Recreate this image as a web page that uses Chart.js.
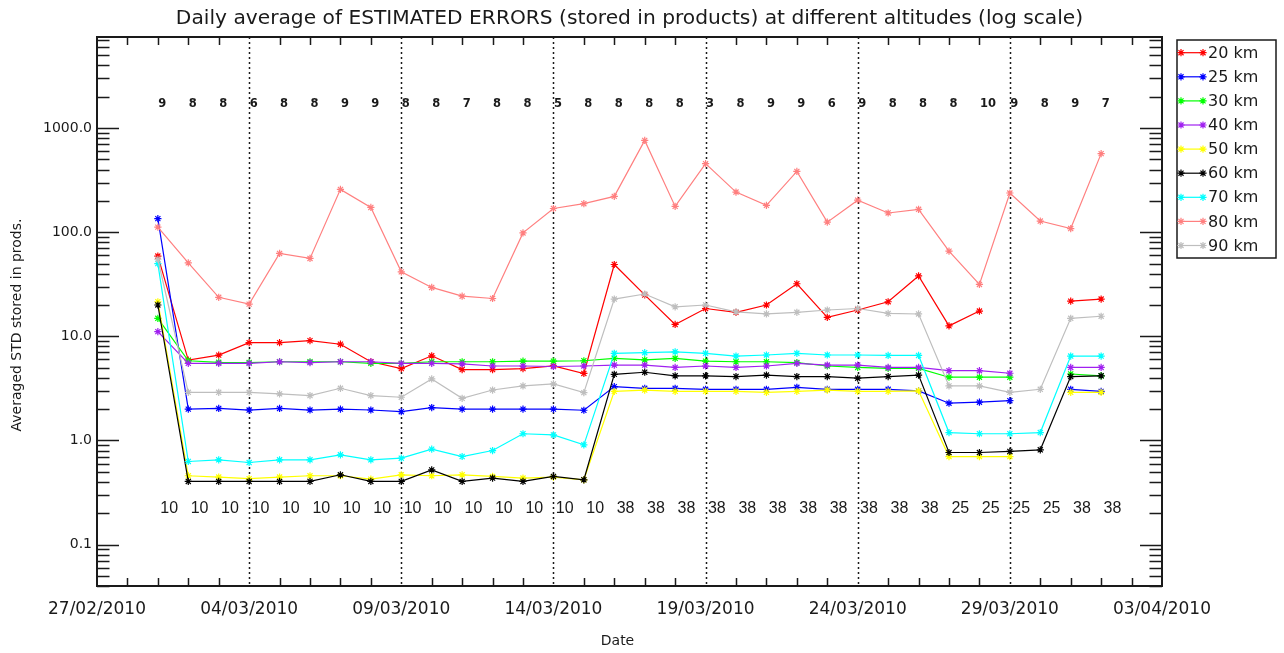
<!DOCTYPE html>
<html>
<head>
<meta charset="utf-8">
<script src="https://cdn.jsdelivr.net/npm/chart.js@4.4.0/dist/chart.umd.min.js"></script>
<style>
  html, body { margin: 0; padding: 0; background: #ffffff; }
  canvas { display: block; }
</style>
</head>
<body>
<canvas id="chart" width="1284" height="653"></canvas>
<script>
// Days with data (dd/mm/yyyy)
const dates = [
  '01/03/2010','02/03/2010','03/03/2010','04/03/2010','05/03/2010','06/03/2010','07/03/2010','08/03/2010',
  '09/03/2010','10/03/2010','11/03/2010','12/03/2010','13/03/2010','14/03/2010','15/03/2010','16/03/2010',
  '17/03/2010','18/03/2010','19/03/2010','20/03/2010','21/03/2010','22/03/2010','23/03/2010','24/03/2010',
  '25/03/2010','26/03/2010','27/03/2010','28/03/2010','29/03/2010','30/03/2010','31/03/2010','01/04/2010'
];

// Daily averaged estimated error per altitude (null = no data that day)
const km20 = [59, 5.9, 6.6, 8.7, 8.7, 9.1, 8.4, 5.7, 4.9, 6.5, 4.8, 4.8, 4.9, 5.2, 4.4, 49,
              25, 13, 18.5, 17, 20, 32, 15.2, 17.9, 21.5, 38, 12.6, 17.5, null, null, 21.8, 22.8];
const km25 = [135, 2.0, 2.03, 1.96, 2.03, 1.96, 2.0, 1.96, 1.89, 2.07, 2.0, 2.0, 2.0, 2.0, 1.95, 3.29,
              3.17, 3.17, 3.1, 3.1, 3.1, 3.24, 3.1, 3.1, 3.1, 2.99, 2.28, 2.33, 2.41, null, 3.1, 2.96];
const km30 = [14.9, 5.83, 5.63, 5.6, 5.7, 5.7, 5.7, 5.5, 5.5, 5.7, 5.7, 5.7, 5.78, 5.78, 5.83, 6.15,
              5.93, 6.15, 5.78, 5.7, 5.7, 5.6, 5.19, 5.03, 4.93, 4.93, 4.05, 4.05, 4.05, null, 4.35, 4.18];
const km40 = [11.1, 5.5, 5.5, 5.5, 5.7, 5.6, 5.7, 5.7, 5.5, 5.5, 5.45, 5.19, 5.19, 5.13, 5.19, 5.3,
              5.3, 5.03, 5.19, 5.03, 5.19, 5.5, 5.3, 5.3, 5.03, 5.03, 4.68, 4.68, 4.42, null, 5.03, 5.03];
const km50 = [21.5, 0.458, 0.445, 0.43, 0.445, 0.458, 0.458, 0.425, 0.468, 0.458, 0.468, 0.451, 0.435, 0.445, 0.419, 2.96,
              3.05, 2.96, 2.96, 2.96, 2.9, 2.96, 3.05, 2.96, 2.96, 3.0, 0.70, 0.70, 0.70, null, 2.9, 2.9];
const km60 = [20.0, 0.404, 0.404, 0.404, 0.404, 0.404, 0.468, 0.404, 0.404, 0.522, 0.404, 0.435, 0.404, 0.451, 0.419, 4.32,
              4.52, 4.18, 4.18, 4.11, 4.25, 4.11, 4.11, 3.96, 4.11, 4.25, 0.766, 0.766, 0.784, 0.813, 4.11, 4.18];
const km70 = [50, 0.628, 0.652, 0.614, 0.652, 0.652, 0.728, 0.652, 0.676, 0.826, 0.701, 0.80, 1.16, 1.13, 0.908, 6.87,
              6.97, 7.1, 6.87, 6.47, 6.62, 6.87, 6.62, 6.62, 6.55, 6.55, 1.19, 1.16, 1.16, 1.19, 6.47, 6.47];
const km80 = [112, 50.8, 23.7, 20.4, 62.5, 56, 258, 173, 41.6, 29.5, 24.3, 23.1, 98.5, 169, 188, 221,
              762, 177, 456, 243, 181, 384, 125, 203, 153, 166, 65.8, 31.5, 238, 128, 108.5, 569];
const km90 = [55, 2.9, 2.9, 2.9, 2.8, 2.7, 3.17, 2.7, 2.6, 3.9, 2.54, 3.05, 3.34, 3.49, 2.88, 22.8,
              25.5, 19.2, 20, 17.2, 16.4, 17, 17.9, 18.5, 16.6, 16.4, 3.34, 3.34, 2.9, 3.1, 14.9, 15.6];

// Per-day counts printed above and below the curves
const countsUpper = [9, 8, 8, 6, 8, 8, 9, 9, 8, 8, 7, 8, 8, 5, 8, 8, 8, 8, 3, 8, 9, 9, 6, 9, 8, 8, 8, 10, 9, 8, 9, 7];
const countsLower = [10, 10, 10, 10, 10, 10, 10, 10, 10, 10, 10, 10, 10, 10, 10, 38,
                     38, 38, 38, 38, 38, 38, 38, 38, 38, 38, 25, 25, 25, 25, 38, 38];

const seriesLabels = ['20 km', '25 km', '30 km', '40 km', '50 km', '60 km', '70 km', '80 km', '90 km'];
const seriesColors = ['#ff0000', '#0000ff', '#00ff00', '#a020f0', '#ffff00', '#000000', '#00ffff', '#ff7f7f', '#bebebe'];
const seriesValues = [km20, km25, km30, km40, km50, km60, km70, km80, km90];

// Axis extent: 27/02/2010 .. 03/04/2010, log range 0.04 .. 7500
const startDate = '27/02/2010';
const endDate = '03/04/2010';
const yMin = 0.04, yMax = 7500;
const yDecades = [0.1, 1, 10, 100, 1000];

const DAY = 86400000;
function parseDate(s) {
  const [d, m, y] = s.split('/').map(Number);
  return Date.UTC(y, m - 1, d);
}
const t0 = parseDate(startDate);
const dayIndex = s => (parseDate(s) - t0) / DAY;
const xMax = dayIndex(endDate);
const xs = dates.map(dayIndex);

function fmtDate(v) {
  const d = new Date(t0 + v * DAY);
  const p = n => String(n).padStart(2, '0');
  return p(d.getUTCDate()) + '/' + p(d.getUTCMonth() + 1) + '/' + d.getUTCFullYear();
}

const datasets = seriesValues.map((vals, i) => ({
  label: seriesLabels[i],
  data: vals.map((v, j) => ({ x: xs[j], y: v })),
  borderColor: seriesColors[i],
  backgroundColor: seriesColors[i],
  borderWidth: 1.2,
  pointStyle: 'star',
  pointRadius: 3.6,
  pointBorderWidth: 1.2,
  pointHoverRadius: 3.6,
  spanGaps: false,
  tension: 0,
  order: seriesValues.length - i
}));

const INK = '#1a1a1a';

// Frame, inward tick marks and dotted date guides
const framePlugin = {
  id: 'framePlugin',
  beforeDatasetsDraw(chart) {
    const { ctx, chartArea: a, scales: { x, y } } = chart;
    ctx.save();
    ctx.strokeStyle = INK;

    // dotted verticals at the labelled dates
    ctx.lineWidth = 1.5;
    ctx.setLineDash([2, 3]);
    for (let d = 5; d < xMax; d += 5) {
      const px = Math.round(x.getPixelForValue(d)) + 0.5;
      ctx.beginPath();
      ctx.moveTo(px, a.top);
      ctx.lineTo(px, a.bottom);
      ctx.stroke();
    }
    ctx.setLineDash([]);

    // daily minor ticks, bottom and top
    ctx.lineWidth = 1.5;
    for (let d = 1; d < xMax; d++) {
      if (d % 5 === 0) continue;
      const px = Math.round(x.getPixelForValue(d)) + 0.5;
      ctx.beginPath();
      ctx.moveTo(px, a.bottom); ctx.lineTo(px, a.bottom - 8);
      ctx.moveTo(px, a.top); ctx.lineTo(px, a.top + 8);
      ctx.stroke();
    }

    // log ticks, left and right
    for (let e = -2; e <= 3; e++) {
      for (let k = 1; k <= 9; k++) {
        const v = k * Math.pow(10, e);
        if (v < yMin || v > yMax) continue;
        const py = Math.round(y.getPixelForValue(v)) + 0.5;
        const len = k === 1 ? 22 : 12.5;
        ctx.beginPath();
        ctx.moveTo(a.left, py); ctx.lineTo(a.left + len, py);
        ctx.moveTo(a.right, py); ctx.lineTo(a.right - len, py);
        ctx.stroke();
      }
    }

    // plot box
    ctx.lineWidth = 2;
    ctx.strokeRect(a.left, a.top, a.right - a.left, a.bottom - a.top);
    ctx.restore();
  },
  afterDraw(chart) {
    const { ctx, chartArea: a, scales: { x } } = chart;
    ctx.save();
    ctx.fillStyle = INK;

    // title
    const title = 'Daily average of ESTIMATED ERRORS (stored in products) at different altitudes (log scale)';
    ctx.font = '16px "DejaVu Sans"';
    const w = ctx.measureText(title).width;
    const fs = 16 * 908 / w;
    ctx.font = fs.toFixed(2) + 'px "DejaVu Sans"';
    ctx.textAlign = 'center';
    ctx.textBaseline = 'middle';
    ctx.fillText(title, (a.left + a.right) / 2, 19);

    // axis titles
    ctx.font = '14px "DejaVu Sans"';
    ctx.fillText('Date', (a.left + a.right) / 2 - 12, 641);
    ctx.save();
    ctx.translate(17, 325);
    ctx.rotate(-Math.PI / 2);
    ctx.font = '14px "DejaVu Sans"';
    ctx.fillText('Averaged STD stored in prods.', 0, 0);
    ctx.restore();

    // per-day counts
    ctx.textAlign = 'left';
    ctx.font = 'bold 11.5px "DejaVu Sans"';
    countsUpper.forEach((n, j) => {
      ctx.fillText(String(n), x.getPixelForValue(xs[j]) + 0.5, 104);
    });
    ctx.font = '16px "Liberation Sans"';
    countsLower.forEach((n, j) => {
      ctx.fillText(String(n), x.getPixelForValue(xs[j]) + 2.4, 509);
    });

    // legend box
    const lx = 1177, ly = 40, lw = 99, lh = 218;
    ctx.lineWidth = 1.5;
    ctx.strokeStyle = INK;
    ctx.strokeRect(lx, ly, lw, lh);
    ctx.font = '16px "DejaVu Sans"';
    ctx.textBaseline = 'middle';
    seriesLabels.forEach((lab, i) => {
      const yy = 52.7 + 24.1 * i;
      const c = seriesColors[i];
      ctx.strokeStyle = c;
      ctx.fillStyle = c;
      ctx.lineWidth = 1.2;
      ctx.beginPath();
      ctx.moveTo(1181, yy); ctx.lineTo(1203, yy);
      ctx.stroke();
      const opts = { pointStyle: 'star', radius: 3.6, borderWidth: 1.2, rotation: 0 };
      Chart.helpers.drawPoint(ctx, opts, 1181, yy);
      Chart.helpers.drawPoint(ctx, opts, 1203, yy);
      ctx.fillStyle = INK;
      ctx.fillText(lab, 1208, yy + 1);
    });
    ctx.restore();
  }
};

new Chart(document.getElementById('chart'), {
  type: 'line',
  data: { datasets },
  options: {
    responsive: false,
    animation: false,
    devicePixelRatio: 1,
    layout: { padding: { top: 37, right: 122, left: 0, bottom: 0 } },
    plugins: {
      legend: { display: false },
      title: { display: false },
      tooltip: { enabled: false }
    },
    scales: {
      x: {
        type: 'linear',
        min: 0,
        max: xMax,
        grid: { display: false, drawTicks: false },
        border: { display: false },
        afterFit: s => { s.height = 67; },
        afterBuildTicks: s => {
          const t = [];
          for (let d = 0; d <= xMax; d += 5) t.push({ value: d });
          s.ticks = t;
        },
        ticks: {
          autoSkip: false,
          maxRotation: 0,
          padding: 13,
          color: INK,
          font: { family: 'DejaVu Sans', size: 17 },
          callback: v => fmtDate(v)
        }
      },
      y: {
        type: 'logarithmic',
        min: yMin,
        max: yMax,
        grid: { display: false, drawTicks: false },
        border: { display: false },
        afterFit: s => { s.width = 97; },
        afterBuildTicks: s => { s.ticks = yDecades.map(v => ({ value: v })); },
        ticks: {
          autoSkip: false,
          padding: 5,
          color: INK,
          font: { family: 'DejaVu Sans', size: 14 },
          callback: v => Number(v).toFixed(1)
        }
      }
    }
  },
  plugins: [framePlugin]
});
</script>
</body>
</html>
